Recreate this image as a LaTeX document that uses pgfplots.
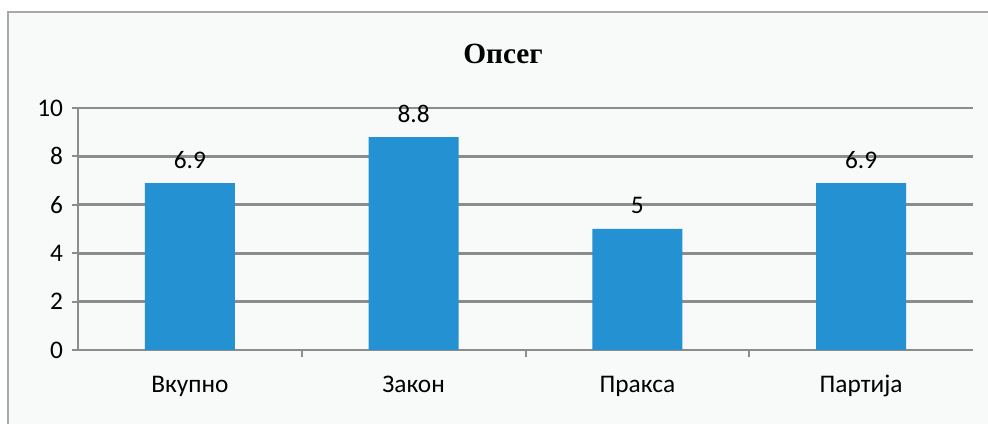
\documentclass[border=0pt]{standalone}
\usepackage{pgfplots}
\pgfplotsset{compat=1.18}
\usepackage{fontspec}
\setmainfont{Carlito}
\newfontfamily\titlefont{Liberation Serif}
\definecolor{barblue}{HTML}{2391D2}
\definecolor{gridgray}{HTML}{8C8C8C}
\definecolor{bgcol}{HTML}{F8F9F9}
\definecolor{framecol}{HTML}{A8A8A8}
\begin{document}
\begin{tikzpicture}
\useasboundingbox (0,0) rectangle (741pt,318pt);
\fill[bgcol] (6pt,0) rectangle (741pt,309pt);
\draw[framecol, line width=1.5pt] (6pt,0) -- (6pt,309pt) -- (741pt,309pt);
\node[font=\titlefont\bfseries\fontsize{22}{25}\selectfont, anchor=base, inner sep=0pt] at (377.25pt,270pt) {Опсег};
\begin{axis}[
  at={(58.5pt,55.5pt)}, anchor=south west,
  scale only axis, width=671.25pt, height=181.5pt,
  xmin=-0.5, xmax=3.5, ymin=0, ymax=10,
  ytick={0,2,4,6,8,10},
  xtick={0,1,2,3},
  xticklabels={Вкупно,Закон,Пракса,Партија},
  major x tick style={draw=none},
  extra x ticks={0.5,1.5,2.5},
  extra x tick labels={},
  extra x tick style={grid=none, major tick length=5pt,
    major x tick style={draw=gridgray, line width=1.5pt}},
  tick align=outside, major tick length=4.5pt,
  ytick style={draw=gridgray, line width=1.5pt},
  axis x line*=bottom, axis y line*=left,
  axis line style={draw=gridgray, line width=2.2pt, -},
  ymajorgrids,
  grid style={draw=gridgray, line width=2.2pt},
  /pgf/number format/assume math mode=true,
  tick label style={font=\fontsize{19}{22}\selectfont, text=black},
  xticklabel style={anchor=base, yshift=-27pt},
  yticklabel style={anchor=east, inner sep=0pt, xshift=-6.5pt},
  ybar, bar width=67.5pt,
  nodes near coords,
  every node near coord/.append style={anchor=base, inner sep=0pt, yshift=11.25pt,
    font=\fontsize{19}{22}\selectfont, text=black},
]
\addplot[fill=barblue, draw=none] coordinates {(0,6.9) (1,8.8) (2,5) (3,6.9)};
\end{axis}
\end{tikzpicture}
\end{document}
